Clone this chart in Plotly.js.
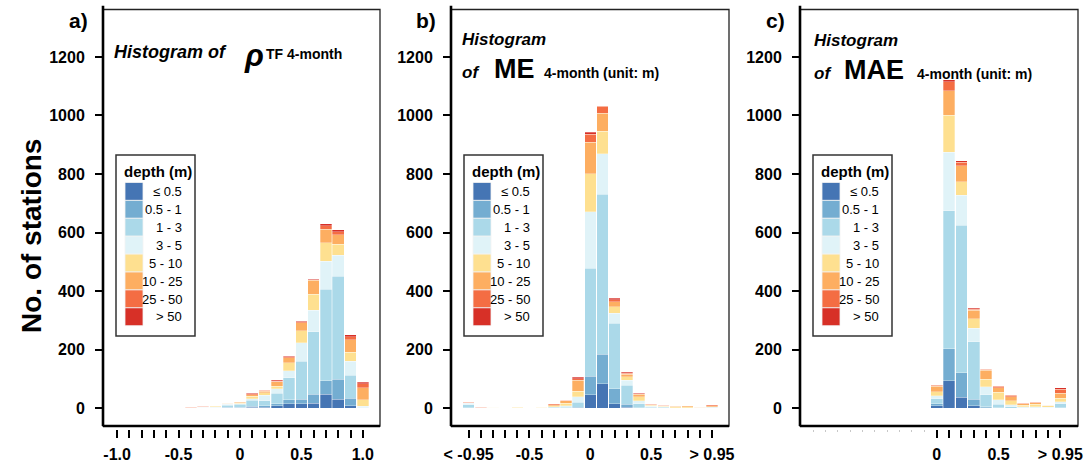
<!DOCTYPE html>
<html>
<head>
<meta charset="utf-8">
<script src="https://cdn.plot.ly/plotly-3.0.1.min.js"></script>
<style>html,body{margin:0;padding:0;background:#fff;}#chart{width:1087px;height:472px;}</style>
</head>
<body>
<div id="chart"></div>
<script>
// ---------- data ----------
const depthClasses = ["≤ 0.5", "0.5 - 1", "1 - 3", "3 - 5", "5 - 10", "10 - 25", "25 - 50", "> 50"];
const depthColors = ["#4575b4", "#74add1", "#abd9e9", "#e0f3f8", "#fee090", "#fdae61", "#f46d43", "#d73027"];

// panel a: correlation rho (bins centred at values)
const rhoBins = [-0.4, -0.3, -0.2, -0.1, 0.0, 0.1, 0.2, 0.3, 0.4, 0.5, 0.6, 0.7, 0.8, 0.9, 1.0];
const rhoCounts = [
  [0, 0, 0, 1, 1, 3, 3, 9, 16, 16, 18, 48, 31, 8, 0],
  [0, 0, 0, 3, 3, 4, 5, 7, 14, 15, 30, 46, 68, 27, 0],
  [0, 1, 2, 7, 9, 20, 17, 36, 74, 129, 213, 312, 352, 77, 1],
  [1, 2, 2, 3, 2, 6, 20, 15, 24, 64, 74, 97, 72, 48, 6],
  [1, 1, 3, 2, 3, 8, 8, 9, 28, 41, 55, 63, 38, 32, 23],
  [0, 1, 2, 1, 3, 6, 5, 14, 17, 28, 47, 46, 31, 42, 40],
  [1, 2, 0, 1, 1, 3, 3, 3, 3, 3, 2, 12, 11, 11, 14],
  [0, 0, 0, 0, 0, 2, 1, 2, 2, 1, 1, 6, 6, 6, 5]
];

// panel b: mean error ME
const meBins = [-1.0, -0.9, -0.8, -0.7, -0.6, -0.5, -0.4, -0.3, -0.2, -0.1, 0.0, 0.1, 0.2, 0.3, 0.4, 0.5, 0.6, 0.7, 0.8, 0.9, 1.0];
const meCounts = [
  [0, 0, 0, 0, 0, 0, 0, 0, 0, 0, 46, 83, 15, 3, 0, 0, 0, 0, 0, 0, 0],
  [1, 0, 0, 0, 0, 0, 0, 0, 0, 3, 63, 101, 51, 11, 1, 0, 0, 0, 0, 0, 0],
  [11, 1, 1, 0, 1, 1, 1, 4, 4, 17, 370, 547, 224, 65, 14, 4, 3, 1, 0, 0, 3],
  [6, 1, 1, 0, 0, 1, 1, 2, 4, 19, 193, 139, 34, 17, 10, 3, 2, 1, 1, 0, 1],
  [1, 0, 1, 0, 2, 0, 1, 3, 9, 19, 129, 77, 23, 11, 15, 3, 2, 3, 4, 2, 2],
  [0, 0, 1, 0, 2, 0, 1, 3, 8, 38, 107, 61, 17, 9, 8, 2, 2, 2, 3, 1, 3],
  [1, 1, 0, 0, 1, 0, 2, 3, 2, 5, 28, 23, 6, 4, 2, 2, 1, 1, 0, 0, 3],
  [3, 0, 0, 0, 0, 0, 0, 1, 1, 5, 6, 3, 6, 3, 1, 1, 1, 0, 0, 0, 0]
];

// panel c: mean absolute error MAE
const maeBins = [0.0, 0.1, 0.2, 0.3, 0.4, 0.5, 0.6, 0.7, 0.8, 0.9, 1.0];
const maeCounts = [
  [9, 94, 38, 8, 1, 0, 0, 0, 0, 0, 0],
  [6, 110, 84, 23, 5, 1, 0, 0, 0, 0, 1],
  [17, 470, 504, 197, 40, 13, 6, 2, 2, 1, 14],
  [10, 201, 102, 46, 28, 15, 6, 3, 3, 2, 8],
  [14, 125, 46, 32, 25, 26, 14, 6, 8, 5, 11],
  [19, 85, 55, 28, 31, 15, 14, 5, 6, 3, 17],
  [3, 31, 11, 5, 3, 5, 4, 2, 2, 0, 14],
  [2, 6, 6, 3, 1, 2, 2, 1, 1, 0, 6]
];

// ticks
const fullTickVals = [-1.0, -0.9, -0.8, -0.7, -0.6, -0.5, -0.4, -0.3, -0.2, -0.1, 0.0, 0.1, 0.2, 0.3, 0.4, 0.5, 0.6, 0.7, 0.8, 0.9, 1.0];
const rhoTickText = ["-1.0", "", "", "", "", "-0.5", "", "", "", "", "0", "", "", "", "", "0.5", "", "", "", "", "1.0"];
const meTickText = ["< -0.95", "", "", "", "", "-0.5", "", "", "", "", "0", "", "", "", "", "0.5", "", "", "", "", "> 0.95"];
const maeTickVals = [0.0, 0.1, 0.2, 0.3, 0.4, 0.5, 0.6, 0.7, 0.8, 0.9, 1.0];
const maeTickText = ["0", "", "", "", "", "0.5", "", "", "", "", "> 0.95"];
const maeFaintTicks = [-1.0, -0.9, -0.8, -0.7, -0.6, -0.5, -0.4, -0.3, -0.2, -0.1];
const yTickVals = [0, 200, 400, 600, 800, 1000, 1200];
const yTickText = ["0", "200", "400", "600", "800", "1000", "1200"];
const panelLabels = ["a)", "b)", "c)"];
const yTitle = "No. of stations";
const legendTitle = "depth (m)";

// ---------- layout helpers ----------
const W = 1087, H = 472;
const PX = v => v / W;
const PY = v => 1 - v / H;
const FONT = 'Arial, "Liberation Sans", sans-serif';

const panels = [
  {bins: rhoBins, counts: rhoCounts, left: 103, right: 380, range: [-1.115, 1.14], tv: fullTickVals, tt: rhoTickText},
  {bins: meBins, counts: meCounts, left: 451, right: 729, range: [-1.145, 1.14], tv: fullTickVals, tt: meTickText},
  {bins: maeBins, counts: maeCounts, left: 800, right: 1078, range: [-1.106, 1.143], tv: maeTickVals, tt: maeTickText}
];

const traces = [];
const layout = {
  width: W, height: H,
  margin: {l: 0, r: 0, t: 0, b: 0},
  paper_bgcolor: "#fff", plot_bgcolor: "#fff",
  barmode: "stack", bargap: 0.06,
  showlegend: false,
  font: {family: FONT, color: "#000"},
  shapes: [], annotations: []
};

panels.forEach((p, i) => {
  const sx = i === 0 ? "" : String(i + 1);
  const xa = "x" + sx, ya = "y" + sx;
  p.counts.forEach((vals, k) => {
    traces.push({
      type: "bar", x: p.bins, y: vals, xaxis: xa, yaxis: ya,
      name: depthClasses[k],
      marker: {color: depthColors[k], line: {color: "rgba(255,255,255,0.85)", width: 0.35}},
      hoverinfo: "skip"
    });
  });
  layout["xaxis" + sx] = {
    domain: [PX(p.left), PX(p.right)], range: p.range,
    anchor: "free", position: PY(428.5),
    tickmode: "array", tickvals: p.tv, ticktext: p.tt,
    ticks: "outside", ticklen: 8, tickwidth: 2, tickcolor: "#000",
    ticklabelstandoff: 3,
    showline: false, showgrid: false, zeroline: false, fixedrange: true,
    tickfont: {family: FONT, size: 16, weight: "bold", color: "#000"}
  };
  if (i === 2) {
    layout["xaxis" + sx].minor = {tickmode: "array", tickvals: maeFaintTicks, ticks: "outside",
      ticklen: 2.5, tickwidth: 1, tickcolor: "#c8c8c8", showgrid: false};
  }
  layout["yaxis" + sx] = {
    domain: [PY(426), PY(9.5)], range: [-60.5, 1362],
    anchor: xa,
    tickmode: "array", tickvals: yTickVals, ticktext: yTickText,
    ticks: "outside", ticklen: 7, tickwidth: 2, tickcolor: "#000",
    ticklabelstandoff: 7,
    showline: false, showgrid: false, zeroline: false, fixedrange: true,
    tickfont: {family: FONT, size: 16, weight: "bold", color: "#000"}
  };
  const xd = xa + " domain", yd = ya + " domain";
  // frame
  layout.shapes.push({type: "rect", xref: xd, yref: yd, x0: 0, x1: 1, y0: 0, y1: 1, line: {color: "#222", width: 1.3}});
  layout.shapes.push({type: "line", xref: xd, yref: yd, x0: 0, x1: 1, y0: 0, y1: 0, line: {color: "#000", width: 2.6}});
  layout.shapes.push({type: "line", xref: xd, yref: yd, x0: 0, x1: 0, y0: 0, y1: 1.009, line: {color: "#000", width: 2.6}});

  // legend box
  const L = p.left;
  layout.shapes.push({type: "rect", xref: "paper", yref: "paper",
    x0: PX(L + 13), x1: PX(L + 92), y0: PY(336), y1: PY(155),
    line: {color: "#333", width: 1.5}, fillcolor: "#fff"});
  depthClasses.forEach((lab, k) => {
    const top = 182.5 + 17.9 * k;
    layout.shapes.push({type: "rect", xref: "paper", yref: "paper",
      x0: PX(L + 22), x1: PX(L + 40), y0: PY(top + 17.9), y1: PY(top),
      fillcolor: depthColors[k], line: {color: "#f2f2f2", width: 0.8}});
    layout.annotations.push({xref: "paper", yref: "paper", x: PX(L + 81), y: PY(top + 9.2),
      xanchor: "right", yanchor: "middle", showarrow: false, text: lab,
      font: {family: FONT, size: 13, color: "#000"}});
  });
  layout.annotations.push({xref: "paper", yref: "paper", x: PX(L + 54.5), y: PY(171),
    xanchor: "center", yanchor: "middle", showarrow: false, text: "<b>" + legendTitle + "</b>",
    font: {family: FONT, size: 15, color: "#000"}});

  // panel label
  layout.annotations.push({xref: "paper", yref: "paper", x: PX(L - 25), y: PY(20),
    xanchor: "center", yanchor: "middle", showarrow: false, text: "<b>" + panelLabels[i] + "</b>",
    font: {family: FONT, size: 21, color: "#000"}});
});

// y axis title
layout.annotations.push({xref: "paper", yref: "paper", x: PX(31), y: PY(236),
  xanchor: "center", yanchor: "middle", showarrow: false, textangle: -90,
  text: "<b>" + yTitle + "</b>", font: {family: FONT, size: 28, color: "#000"}});

// panel titles (pieces)
function txt(x, y, text, size) {
  layout.annotations.push({xref: "paper", yref: "paper", x: PX(x), y: PY(y),
    xanchor: "left", yanchor: "middle", showarrow: false, text: text,
    font: {family: FONT, size: size, color: "#000"}});
}
// a
txt(112, 52.3, "<b><i>Histogram of</i></b>", 18);
txt(242, 55, "<b><i>ρ</i></b>", 31);
txt(264, 53.8, "<b>TF 4-month</b>", 14);
// b
txt(460, 39, "<b><i>Histogram</i></b>", 17);
txt(460, 72, "<b><i>of</i></b>", 17);
txt(492, 68.5, "<b>ME</b>", 27);
txt(542, 73, "<b>4-month (unit: m)</b>", 14);
// c
txt(812, 41, "<b><i>Histogram</i></b>", 17);
txt(812, 73.5, "<b><i>of</i></b>", 17);
txt(842, 69.5, "<b>MAE</b>", 27);
txt(915, 74, "<b>4-month (unit: m)</b>", 14);

Plotly.newPlot("chart", traces, layout, {displayModeBar: false, staticPlot: true});
</script>
</body>
</html>
